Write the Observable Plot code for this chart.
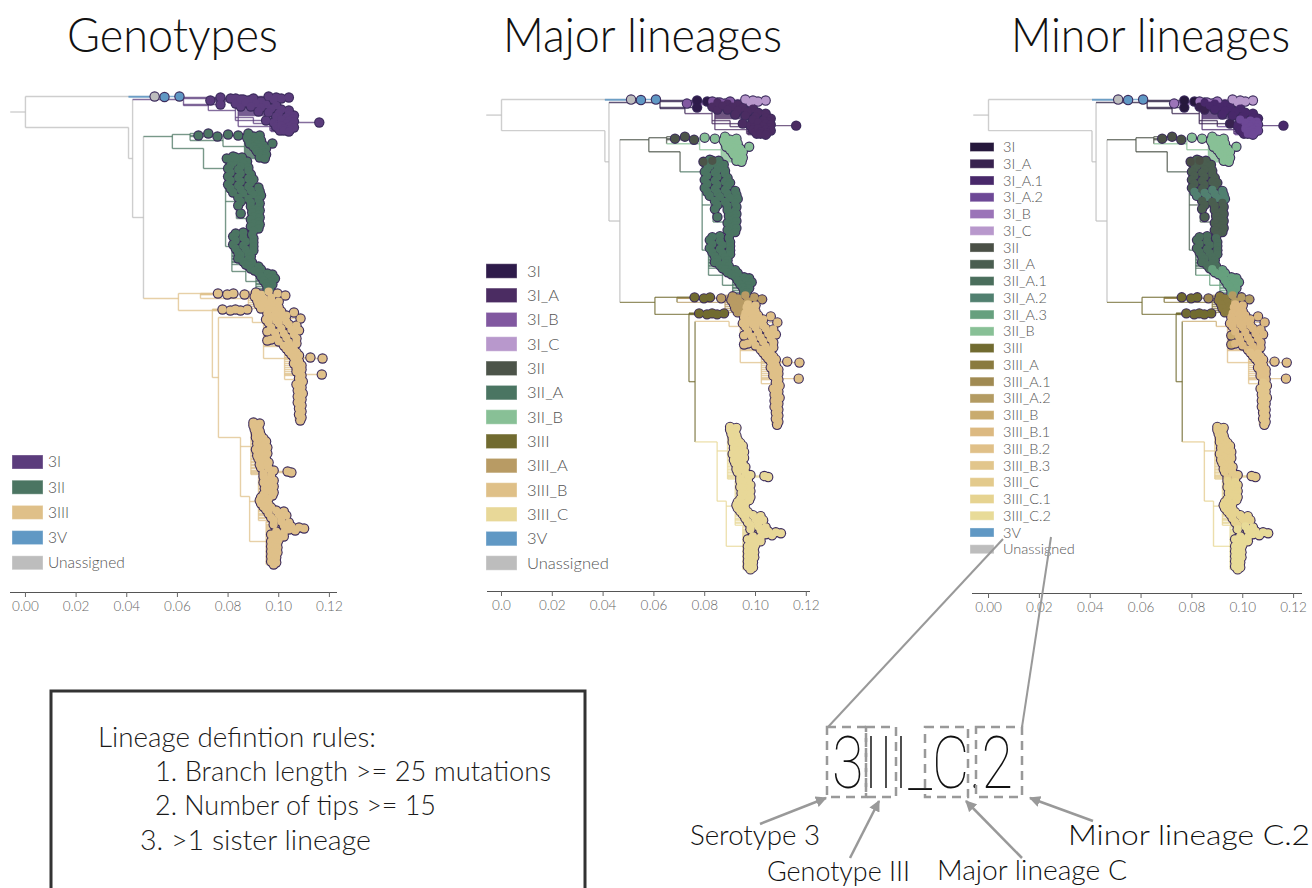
<!DOCTYPE html>
<html><head><meta charset="utf-8">
<script src="https://cdn.jsdelivr.net/npm/d3@7"></script>
<script src="https://cdn.jsdelivr.net/npm/@observablehq/plot@0.6"></script>
<style>
html,body{margin:0;padding:0;background:#fff;}
#fig{position:relative;width:1312px;height:888px;overflow:hidden;background:#fff;}
.panel{position:absolute;top:0;}
.panel svg{max-width:none !important;background:transparent !important;}
</style></head><body><div id="fig"></div>
<script>
// ---------- axis ticks ----------
const tickValues = [0, 0.02, 0.04, 0.06, 0.08, 0.10, 0.12];
const tickLabelsGenotype = ["0.00","0.02","0.04","0.06","0.08","0.10","0.12"];
const tickLabelsMajor = ["0.0","0.02","0.04","0.06","0.08","0.10","0.12"];
const tickLabelsMinor = ["0.00","0.02","0.04","0.06","0.08","0.10","0.12"];

// ---------- legends / colours ----------
const genotypeLegend = ["3I","3II","3III","3V","Unassigned"];
const genotypeColors = ["#5b3c7c","#4b7562","#dfc089","#6098c4","#bdbdbd"];
const majorLegend = ["3I","3I_A","3I_B","3I_C","3II","3II_A","3II_B","3III","3III_A","3III_B","3III_C","3V","Unassigned"];
const majorColors = ["#2e1b4a","#4b2c62","#8158a0","#b898cc","#4c5449","#4a7562","#88c096","#716b30","#b89b64","#dfc088","#e8d898","#6098c4","#bdbdbd"];
const minorLegend = ["3I","3I_A","3I_A.1","3I_A.2","3I_B","3I_C","3II","3II_A","3II_A.1","3II_A.2","3II_A.3","3II_B","3III","3III_A","3III_A.1","3III_A.2","3III_B","3III_B.1","3III_B.2","3III_B.3","3III_C","3III_C.1","3III_C.2","3V","Unassigned"];
const minorColors = ["#26183c","#38224f","#48286a","#6d4896","#9b74b8","#b898cc","#4a5046","#4a5e50","#4a6e5c","#518070","#66a07e","#88c096","#716b30","#8a7b3f","#a08a52","#b39b62","#c9ab6e","#dcb981","#e0c088","#e2c68c","#e3ca8c","#e6d390","#e8db98","#6098c4","#bdbdbd"];

// ---------- tree: internal nodes [name, parent, divergence (x1e-3 subs/site), tip-order row, minor lineage] ----------
const treeNodes = [
 ["stem", null, -6, 15.5, "Unassigned"],
 ["R", "stem", 0, 15.5, "Unassigned"],
 ["U", "R", 40.7, 0, "Unassigned"],
 ["N2", "R", 40.7, 31, "Unassigned"],
 ["N3", "N2", 42.3, 62, "Unassigned"],
 ["I0", "N3", 62.4, 3, "3I"],
 ["Ia", "I0", 72.2, 9, "3I"],
 ["IC", "Ia", 88, 3, "3I_C"],
 ["Ib", "Ia", 82.9, 14, "3I_A"],
 ["IA1", "Ib", 84, 12, "3I_A.1"],
 ["IA1b", "IA1", 96.5, 30, "3I_A.1"],
 ["Ic", "Ib", 90, 21, "3I_A"],
 ["IA2", "Ic", 97, 27, "3I_A.2"],
 ["N5", "N3", 46.6, 121, "Unassigned"],
 ["G0", "N5", 58, 40, "3II"],
 ["G1", "G0", 65, 38, "3II"],
 ["B0", "G1", 78, 44, "3II_B"],
 ["B1", "B0", 86.5, 50, "3II_B"],
 ["G2", "G0", 70.3, 52, "3II"],
 ["A0", "G2", 79, 72, "3II_A"],
 ["A2n", "A0", 80.5, 95, "3II_A.2"],
 ["A3n", "A0", 83.3, 105, "3II_A"],
 ["A3m", "A3n", 88, 122, "3II_A"],
 ["A1n", "A0", 81.5, 150, "3II_A.1"],
 ["A3b", "A1n", 87, 175, "3II_A.3"],
 ["A3c", "A3b", 91, 185, "3II_A.3"],
 ["T0", "N5", 60.4, 202, "3III"],
 ["T1", "T0", 69.1, 197, "3III"],
 ["TA", "T1", 88, 202, "3III_A"],
 ["T2", "T0", 73.8, 214, "3III"],
 ["T3", "T2", 76.2, 281, "3III"],
 ["TB", "T3", 89.6, 221, "3III_B"],
 ["TB1", "TB", 94, 226, "3III_B.1"],
 ["TB2", "TB1", 102.3, 262, "3III_B.2"],
 ["TB3", "TB2", 106.5, 283, "3III_B.3"],
 ["TC", "T3", 84.9, 341, "3III_C"],
 ["TCt", "TC", 89, 350, "3III_C"],
 ["TC1", "TC", 88.5, 400, "3III_C.1"],
 ["TC1b", "TC1", 92, 405, "3III_C.1"],
 ["TC2", "TC1", 95, 445, "3III_C.2"]
];

// ---------- tips [parent node, minor lineage, [[row, divergence x1e-3], ...]] ----------
const tipsUnassigned = ["U", "Unassigned", [[0, 51]]];
const tips3V = ["U", "3V", [[0.5, 54.9], [0, 60.8]]];
const tips3I = ["I0", "3I", [[1, 77], [2, 81], [8, 77]]];
const tips3I_B = ["Ia", "3I_B", [[4, 73], [2, 83], [3, 86], [4, 88], [2, 90], [5, 84]]];
const tips3I_C = ["IC", "3I_C", [[0, 96], [1, 99], [2, 101], [1, 104], [3, 98]]];
const tips3I_A = ["Ib", "3I_A", [[7, 83], [10, 85], [24, 95]]];
const tips3I_A1 = ["IA1", "3I_A.1", [[3, 85], [4, 89], [5, 93], [6, 87], [7, 91], [8, 95], [9, 99], [10, 89], [11, 93], [12, 97], [13, 101], [14, 104], [15, 92], [16, 96], [17, 100], [18, 104], [19, 106]]];
const tips3I_A1b = ["IA1b", "3I_A.1", [[26, 98], [28, 99.5], [30, 99], [32, 100], [34, 100.5], [26, 116]]];
const tips3I_A2 = ["IA2", "3I_A.2", [[20, 99], [21, 103], [22, 105.5], [23, 101], [24, 104], [25, 106], [27, 103], [28, 105.5], [29, 101], [30, 104], [31, 106], [32, 102], [33, 104.5], [34, 102], [35, 104]]];
const tips3II = ["G1", "3II", [[39, 68.3], [37, 72.2], [40, 75.8]]];
const tips3II_top = ["A0", "3II", [[62, 79.5], [61, 83]]];
const tips3II_B = ["B0", "3II_B", [[38, 80], [39, 84]]];
const tips3II_Bblob = ["B1", "3II_B", [[37, 88], [40, 90], [39, 92.5], [41, 87.5], [42, 91], [43, 88], [44, 93], [45, 90], [47, 97.5], [47, 88.5], [48, 91.5], [49, 94], [50, 90], [51, 92.5], [52, 95], [53, 91], [54, 93.5], [55, 91.5], [56, 94.5], [57, 92.5], [58, 95], [59, 93], [60, 94.5], [61, 92.5], [62, 94.5]]];
const tips3II_A = ["A0", "3II_A", [[60, 82], [61, 85.5], [63, 81], [64, 84.5], [65, 87.5], [66, 82], [67, 86], [69, 81], [70, 85], [71, 88], [72, 80], [73, 84], [74, 88], [76, 81], [77, 85], [78, 89], [80, 80], [81, 84], [82, 88], [83, 90], [84, 81], [85, 85], [86, 89], [88, 80], [89, 84]]];
const tips3II_A2 = ["A2n", "3II_A.2", [[90, 88], [91, 92], [92, 81], [93, 85], [94, 89], [95, 92.5], [96, 82], [97, 86], [98, 90], [99, 93]]];
const tips3II_Amid = ["A3n", "3II_A", [[101, 84], [102, 88], [103, 92], [105, 85], [106, 89], [107, 92.5], [109, 84], [117, 85]]];
const tips3II_Alow = ["A3m", "3II_A", [[110, 89], [111, 92], [113, 90], [114, 92.5], [116, 89.5], [118, 92], [120, 90], [121, 92.5], [123, 89], [125, 92], [127, 90], [128, 92.5], [130, 89], [132, 92], [134, 90]]];
const tips3II_A1 = ["A1n", "3II_A.1", [[136, 86], [137, 83], [138, 89.5], [140, 82], [141, 86], [142, 90], [144, 83], [145, 87], [146, 90], [148, 82], [149, 86], [150, 90], [152, 83], [153, 87], [154, 90], [156, 84], [157, 88], [159, 85], [160, 89], [162, 84], [163, 88], [165, 86], [166, 89.5], [168, 87]]];
const tips3II_A3 = ["A3b", "3II_A.3", [[169, 88], [170, 92], [172, 89], [173, 93], [174, 90.5]]];
const tips3II_A3b = ["A3c", "3II_A.3", [[176, 92], [177, 95.5], [178, 97.5], [180, 93], [181, 96.5], [182, 98.5], [184, 94], [185, 97], [187, 95], [188, 97.5], [190, 95.5], [192, 96.5], [194, 95.5]]];
const tips3III_a = ["T1", "3III", [[197, 76], [198, 79.7], [197, 82.1]]];
const tips3III_A1 = ["T1", "3III_A.1", [[198, 86.5]]];
const tips3III_A = ["TA", "3III_A", [[196, 91], [198, 93], [200, 90.5], [202, 94], [204, 91.5], [206, 94.5], [208, 92], [210, 94.5], [212, 93]]];
const tips3III_A2 = ["TA", "3III_A.2", [[195, 96], [197, 99.5], [199, 102.6], [201, 97]]];
const tips3III_b = ["T2", "3III", [[213, 77.8], [214, 80.9], [213, 82.9], [214, 84.9], [213, 87.6]]];
const tips3III_B = ["TB1", "3III_B", [[235, 95.5], [244, 95.5]]];
const tips3III_B1 = ["TB1", "3III_B.1", [[204, 97], [205, 100], [207, 96.5], [208, 99], [210, 97.5], [211, 100], [213, 96], [214, 98.5], [215, 101], [216, 106], [217, 95.5], [218, 99], [219, 103], [220, 97], [221, 101], [222, 108.6], [223, 95], [224, 99], [225, 103], [226, 96], [227, 100], [228, 104], [229, 107], [231, 97], [232, 101], [233, 105], [234, 108], [236, 98.5], [237, 102], [238, 106], [240, 99], [241, 103], [242, 107], [243, 97], [245, 100], [246, 104], [247, 107], [249, 102], [250, 105]]];
const tips3III_B2 = ["TB2", "3III_B.2", [[252, 103], [253, 106], [255, 104], [256, 107], [258, 105], [259, 108], [261, 106], [261, 112.5], [262, 117.3], [263, 107], [265, 108], [267, 106], [269, 109], [271, 107], [273, 109], [275, 107], [277, 108], [278, 117], [279, 109]]];
const tips3III_B3 = ["TB3", "3III_B.3", [[282, 108], [285, 109.5], [288, 107], [291, 109], [294, 107.5], [297, 109.5], [300, 107.5], [303, 109], [306, 107.5], [309, 109], [312, 108], [315, 109], [318, 108], [321, 109], [324, 108.5]]];
const tips3III_C = ["TCt", "3III_C", [[326, 90], [327, 92.5], [329, 90], [331, 92], [333, 90.5], [335, 92.5], [337, 91], [339, 93], [341, 91], [342, 94], [344, 92], [345, 95], [347, 91.5], [348, 94.5], [350, 92], [351, 95.5], [353, 91], [354, 94], [356, 92.5], [357, 95.5], [359, 91.5], [360, 94], [362, 92], [363, 95], [365, 93], [366, 96], [368, 92.5], [369, 95.5], [371, 93], [372, 96], [374, 98], [375, 103.5], [376, 105], [377, 94], [378, 97]]];
const tips3III_C1 = ["TC1b", "3III_C.1", [[380, 94], [381, 97], [383, 95], [384, 98], [386, 94], [387, 97], [389, 95.5], [390, 98], [392, 94.5], [393, 97], [395, 95], [396, 98], [398, 94], [399, 97.5], [401, 93], [402, 96], [404, 92.5], [405, 95], [407, 93], [408, 96], [410, 94], [411, 97], [413, 95], [414, 99], [415, 102], [417, 96], [418, 100], [419, 103], [421, 97], [422, 101], [424, 98]]];
const tips3III_C2 = ["TC2", "3III_C.2", [[425, 101], [426, 104], [428, 98], [429, 102], [430, 105], [431, 108], [432, 110], [433, 104], [434, 106.5], [435, 99], [436, 102], [438, 97], [439, 100], [440, 102], [442, 98], [443, 100], [445, 97], [446, 99.5], [448, 98], [450, 97], [451, 99.5], [453, 98], [455, 97], [456, 99.5], [458, 98], [460, 97], [461, 99], [463, 98], [465, 97], [466, 99], [468, 98]]];

// ---------- text ----------
const panelTitles = ["Genotypes", "Major lineages", "Minor lineages"];
const ruleLines = ["Lineage defintion rules:", "1. Branch length >= 25 mutations", "2. Number of tips >= 15", "3. >1 sister lineage"];
const exampleLabel = "3III_C.2";
const exampleParts = ["Serotype 3", "Genotype III", "Major lineage C", "Minor lineage C.2"];

// ================= build =================
const tipGroups = [tipsUnassigned, tips3V, tips3I, tips3I_B, tips3I_C, tips3I_A, tips3I_A1, tips3I_A1b, tips3I_A2,
  tips3II, tips3II_B, tips3II_Bblob, tips3II_A, tips3II_top, tips3II_A2, tips3II_Amid, tips3II_Alow, tips3II_A1, tips3II_A3, tips3II_A3b,
  tips3III_a, tips3III_A1, tips3III_A, tips3III_A2, tips3III_b, tips3III_B, tips3III_B1, tips3III_B2, tips3III_B3,
  tips3III_C, tips3III_C1, tips3III_C2];

const nodeMap = new Map(treeNodes.map(([name, parent, div, row, lin]) => [name, {name, parent, x: div / 1000, y: row, lin, kids: []}]));
const tips = tipGroups.flatMap(([node, lin, pts]) => pts.map(([row, div]) => ({node, lin, x: div / 1000, y: row})));
const hSegs = [];
for (const n of nodeMap.values()) if (n.parent) { const p = nodeMap.get(n.parent); p.kids.push(n.y); hSegs.push({x1: p.x, x2: n.x, y: n.y, lin: n.lin}); }
for (const t of tips) { const p = nodeMap.get(t.node); p.kids.push(t.y); hSegs.push({x1: p.x, x2: t.x, y: t.y, lin: t.lin}); }
const vSegs = [];
for (const n of nodeMap.values()) if (n.kids.length) vSegs.push({x: n.x, y1: Math.min(n.y, ...n.kids), y2: Math.max(n.y, ...n.kids), lin: n.lin});

const toMajor = lin => lin.replace(/\.\d+$/, "");
const toGenotype = lin => lin.split("_")[0];

const FONT = "Lato, Roboto, 'Helvetica Neue', Arial, sans-serif";
const panels = [
 {left: 0, width: 350, height: 622, ml: 10, mr: 13, mt: 86, mb: 30, xd: [-0.0059, 0.1232], yd: [-10, 496], key: toGenotype, legend: genotypeLegend, colors: genotypeColors, labels: tickLabelsGenotype,
  lg: {x: 12, w: 31, h: 14, y0: 462, step: 25.2, tx: 48, fs: 15.5}, title: {x: 67, len: 211}},
 {left: 470, width: 350, height: 621, ml: 17, mr: 10, mt: 89, mb: 30, xd: [-0.00551, 0.12165], yd: [-10, 490], key: toMajor, legend: majorLegend, colors: majorColors, labels: tickLabelsMajor,
  lg: {x: 486, w: 31, h: 14.5, y0: 271, step: 24.33, tx: 527, fs: 16.5}, title: {x: 503, len: 279}},
 {left: 960, width: 352, height: 623, ml: 12, mr: 10, mt: 89, mb: 30, xd: [-0.0063, 0.1235], yd: [-10, 492], key: d => d, legend: minorLegend, colors: minorColors, labels: tickLabelsMinor,
  lg: {x: 970, w: 24, h: 9, y0: 147, step: 16.76, tx: 1003, fs: 14.5}, title: {x: 1011, len: 279}}
];

const fig = d3.select("#fig");
for (const P of panels) {
  const cmap = new Map(P.legend.map((k, i) => [k, P.colors[i]]));
  const col = lin => cmap.get(P.key(lin)) || "#bdbdbd";
  const chart = Plot.plot({
    width: P.width, height: P.height,
    marginLeft: P.ml, marginRight: P.mr, marginTop: P.mt, marginBottom: P.mb,
    x: {domain: P.xd},
    y: {domain: P.yd, reverse: true, axis: null},
    style: {fontFamily: FONT, fontSize: "13.5px", fontWeight: 300, background: "transparent", overflow: "visible"},
    marks: [
      Plot.link(vSegs, {x1: "x", x2: "x", y1: "y1", y2: "y2", stroke: d => col(d.lin), strokeOpacity: 0.75, strokeWidth: 1.4}),
      Plot.link(hSegs, {x1: "x1", x2: "x2", y1: "y", y2: "y", stroke: d => col(d.lin), strokeOpacity: 0.75, strokeWidth: 1.4}),
      Plot.dot(tips, {x: "x", y: "y", r: 5.2, fill: "#3b2b5c"}),
      Plot.dot(tips, {x: "x", y: "y", r: 4.1, fill: d => col(d.lin)}),
      Plot.ruleY([P.yd[1]], {stroke: "#555", strokeWidth: 1.2}),
      Plot.axisX({ticks: tickValues, tickFormat: d => P.labels[tickValues.indexOf(d)], tickSize: 5, tickPadding: 4, color: "#666"})
    ]
  });
  fig.append("div").attr("class", "panel").style("left", P.left + "px").style("width", P.width + "px").node().appendChild(chart);
}

// ---------- overlay: titles, legends, rules box, lineage-name diagram ----------
const svg = fig.append("svg").attr("width", 1312).attr("height", 888)
  .style("position", "absolute").style("left", 0).style("top", 0).style("font-family", FONT);
const defs = svg.append("defs");
defs.append("marker").attr("id", "ah").attr("viewBox", "0 0 10 10").attr("refX", 9).attr("refY", 5)
  .attr("markerWidth", 4.5).attr("markerHeight", 4.5).attr("orient", "auto")
  .append("path").attr("d", "M0,0L10,5L0,10z").attr("fill", "#999");

panels.forEach((P, k) => {
  svg.append("text").attr("x", P.title.x).attr("y", 52).attr("font-size", 47).attr("font-weight", 300)
    .attr("fill", "#111").attr("textLength", P.title.len).attr("lengthAdjust", "spacingAndGlyphs").text(panelTitles[k]);
  const g = svg.append("g");
  P.legend.forEach((lab, i) => {
    const cy = P.lg.y0 + i * P.lg.step;
    g.append("rect").attr("x", P.lg.x).attr("y", cy - P.lg.h / 2).attr("width", P.lg.w).attr("height", P.lg.h)
      .attr("fill", P.colors[i]).attr("stroke", "#fff").attr("stroke-opacity", 0.35).attr("stroke-width", 1);
    g.append("text").attr("x", P.lg.tx).attr("y", cy + P.lg.fs * 0.35).attr("font-size", P.lg.fs)
      .attr("font-weight", 300).attr("fill", "#555").text(lab);
  });
});

// rules box
svg.append("rect").attr("x", 51).attr("y", 691).attr("width", 534).attr("height", 240)
  .attr("fill", "none").attr("stroke", "#333").attr("stroke-width", 3);
const ruleX = [98, 155, 155, 140], ruleY = [747, 781, 815, 850], ruleLen = [278, 396, 281, 231];
ruleLines.forEach((t, i) => svg.append("text").attr("x", ruleX[i]).attr("y", ruleY[i]).attr("font-size", 27)
  .attr("font-weight", 300).attr("fill", "#1a1a1a").attr("textLength", ruleLen[i]).attr("lengthAdjust", "spacingAndGlyphs").text(t));

// connector lines from the legend entry
const gray = "#999";
svg.append("line").attr("x1", 1003).attr("y1", 539).attr("x2", 828).attr("y2", 727).attr("stroke", gray).attr("stroke-width", 2);
svg.append("line").attr("x1", 1051).attr("y1", 537).attr("x2", 1022).attr("y2", 727).attr("stroke", gray).attr("stroke-width", 2);

// big label
svg.append("text").attr("x", 832).attr("y", 788).attr("font-size", 72).attr("font-weight", 100)
  .attr("font-family", "Roboto, sans-serif")
  .attr("fill", "#111").attr("textLength", 181).attr("lengthAdjust", "spacingAndGlyphs").text(exampleLabel);
// dashed boxes
const boxX = [[827, 866], [866, 896], [925, 968], [976, 1022]];
boxX.forEach(([a, b]) => svg.append("rect").attr("x", a).attr("y", 727).attr("width", b - a).attr("height", 70)
  .attr("fill", "none").attr("stroke", gray).attr("stroke-width", 2.5).attr("stroke-dasharray", "9 6"));
// part labels and arrows
const partX = [690, 767, 937, 1068], partY = [845, 881, 880, 845], partLen = [130, 143, 190, 242];
exampleParts.forEach((t, i) => svg.append("text").attr("x", partX[i]).attr("y", partY[i]).attr("font-size", 28)
  .attr("font-weight", 300).attr("fill", "#111").attr("textLength", partLen[i]).attr("lengthAdjust", "spacingAndGlyphs").text(t));
const arrows = [[760, 824, 826, 798], [850, 858, 879, 801], [1022, 858, 966, 801], [1093, 821, 1030, 798]];
arrows.forEach(([x1, y1, x2, y2]) => svg.append("line").attr("x1", x1).attr("y1", y1).attr("x2", x2).attr("y2", y2)
  .attr("stroke", gray).attr("stroke-width", 2.5).attr("marker-end", "url(#ah)"));
</script></body></html>
